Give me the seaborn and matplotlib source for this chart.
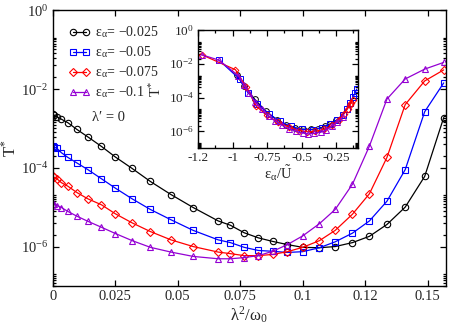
import numpy as np
import pandas as pd
import matplotlib
matplotlib.use("Agg")
import matplotlib.pyplot as plt
import seaborn as sns
from matplotlib.ticker import FixedLocator, FixedFormatter, MultipleLocator, NullFormatter

# ---------------- data ----------------
lam2 = [0.0, 0.0004, 0.0017, 0.0035, 0.0061, 0.0097, 0.0141, 0.0195, 0.0251, 0.0318,
        0.0391, 0.0473, 0.0562, 0.0662, 0.0711, 0.0766, 0.0823, 0.0880, 0.0939, 0.1000,
        0.1067, 0.1130, 0.1199, 0.1267, 0.1337, 0.1410, 0.1488, 0.1564]

logT_025 = [-2.64, -2.66, -2.71, -2.77, -2.86, -3.03, -3.22, -3.46, -3.73, -4.02,
            -4.35, -4.68, -5.01, -5.35, -5.46, -5.65, -5.78, -5.87, -5.95, -6.02,
            -6.03, -6.00, -5.90, -5.74, -5.44, -5.00, -4.22, -2.73]
logT_050 = [-3.46, -3.47, -3.51, -3.62, -3.74, -3.88, -4.05, -4.28, -4.52, -4.79,
            -5.06, -5.32, -5.59, -5.83, -5.90, -6.02, -6.10, -6.12, -6.15, -6.13,
            -6.03, -5.88, -5.66, -5.35, -4.85, -4.05, -2.58, -1.85]
logT_075 = [-4.22, -4.24, -4.28, -4.38, -4.47, -4.63, -4.79, -4.94, -5.17, -5.40,
            -5.62, -5.83, -6.00, -6.14, -6.18, -6.23, -6.23, -6.20, -6.13, -6.02,
            -5.85, -5.59, -5.18, -4.66, -3.74, -2.40, -1.80, -1.52]
logT_100 = [-4.91, -4.93, -4.96, -5.01, -5.11, -5.23, -5.36, -5.51, -5.67, -5.85,
            -6.02, -6.14, -6.25, -6.31, -6.31, -6.28, -6.23, -6.12, -5.95, -5.73,
            -5.42, -5.06, -4.42, -3.45, -2.26, -1.75, -1.50, -1.33]

# inset: T* versus eps_alpha / U~
in_x_025 = [-0.97, -0.92, -0.84, -0.76, -0.68, -0.61, -0.55, -0.49, -0.43, -0.38, -0.33, -0.29, -0.25]
in_L_025 = [-2.66, -3.30, -4.10, -4.80, -5.30, -5.62, -5.80, -5.87, -5.88, -5.84, -5.70, -5.55, -5.35]
in_x_050 = [-1.10, -0.95, -0.89, -0.82, -0.74, -0.66, -0.58, -0.50, -0.42, -0.35, -0.29, -0.24,
            -0.20, -0.17, -0.145, -0.125, -0.11, -0.10]
in_L_050 = [-1.78, -2.90, -3.70, -4.35, -4.95, -5.40, -5.70, -5.88, -5.90, -5.78, -5.58, -5.30,
            -5.00, -4.65, -4.30, -3.95, -3.70, -3.50]
in_x_075 = [-1.22, -0.98, -0.90, -0.83, -0.75, -0.67, -0.59, -0.52, -0.46, -0.40, -0.34, -0.28,
            -0.23, -0.19, -0.165, -0.15, -0.14, -0.13]
in_L_075 = [-1.48, -2.35, -3.40, -4.50, -5.05, -5.45, -5.75, -5.95, -6.02, -6.00, -5.88, -5.65,
            -5.30, -4.95, -4.65, -4.45, -4.30, -4.15]
in_x_100 = [-1.22, -1.10, -0.96, -0.92, -0.88, -0.84, -0.79, -0.74, -0.69, -0.64, -0.59, -0.54,
            -0.49, -0.45, -0.41, -0.36, -0.32, -0.28, -0.24, -0.20]
in_L_100 = [-1.48, -1.78, -2.70, -3.25, -3.75, -4.25, -4.70, -5.10, -5.40, -5.65, -5.85, -6.00,
            -6.10, -6.15, -6.12, -6.05, -5.90, -5.70, -5.45, -5.15]

labels = ['ε$_\\mathregular{α}$= −0.025', 'ε$_\\mathregular{α}$= −0.05',
          'ε$_\\mathregular{α}$= −0.075', 'ε$_\\mathregular{α}$= −0.1']
main_y = [logT_025, logT_050, logT_075, logT_100]
inset_x = [in_x_025, in_x_050, in_x_075, in_x_100]
inset_y = [in_L_025, in_L_050, in_L_075, in_L_100]

main_xticks = [0, 0.025, 0.05, 0.075, 0.1, 0.125, 0.15]
main_xticklabels = ['0', '0.025', '0.05', '0.075', '0.1', '0.12', '0.15']
inset_xticks = [-1.25, -1.0, -0.75, -0.5, -0.25]
inset_xticklabels = ['-1.2', '-1', '-0.75', '-0.5', '-0.25']
yticks = [1e-6, 1e-4, 1e-2, 1e0]
yticklabels = ['10$^\\mathregular{-6}$', '10$^\\mathregular{-4}$',
               '10$^\\mathregular{-2}$', '10$^\\mathregular{0}$']

# ---------------- style ----------------
sns.set_theme(style="ticks")
plt.rcParams['font.family'] = ['Liberation Serif', 'DejaVu Serif']
plt.rcParams['mathtext.fontset'] = 'stix'
plt.rcParams['axes.linewidth'] = 1.0

colors = ['#000000', '#0000ff', '#ff0000', '#9400d3']
markers = ['o', 's', 'D', '^']
msizes = [4.6, 4.2, 3.8, 4.6]

fig = plt.figure(figsize=(4.5, 3.32), dpi=100)
ax = fig.add_axes([0.117, 0.1386, 0.874, 0.8314])
axin = fig.add_axes([0.44, 0.5533, 0.355, 0.3563])

minor_log = [10.0**d * k for d in (-8, -6, -4, -2, 0) for k in range(2, 21, 2)]


def style_log_axis(a, fs):
    a.set_yscale('log')
    a.set_ylim(1e-7, 1.0)
    a.yaxis.set_major_locator(FixedLocator(yticks))
    a.yaxis.set_major_formatter(FixedFormatter(yticklabels))
    a.yaxis.set_minor_locator(FixedLocator(minor_log))
    a.yaxis.set_minor_formatter(NullFormatter())
    a.tick_params(which='both', direction='in', top=True, right=True,
                  labelsize=fs, pad=3, width=0.9, color='black')
    a.tick_params(which='major', length=4.5)
    a.tick_params(which='minor', length=2.3)
    for s in a.spines.values():
        s.set_color('black')
        s.set_linewidth(1.0)


for ly, c, m, ms, lab in zip(main_y, colors, markers, msizes, labels):
    df = pd.DataFrame({'x': lam2, 'T': 10.0 ** np.array(ly)})
    sns.lineplot(data=df, x='x', y='T', ax=ax, color=c, marker=m, markersize=ms,
                 markerfacecolor='none', markeredgecolor=c, markeredgewidth=0.8,
                 linewidth=0.9, estimator=None, sort=False, label=lab, legend=False)

for ix, iy, c, m, ms in zip(inset_x, inset_y, colors, markers, msizes):
    df = pd.DataFrame({'x': ix, 'T': 10.0 ** np.array(iy)})
    sns.lineplot(data=df, x='x', y='T', ax=axin, color=c, marker=m, markersize=ms * 0.9,
                 markerfacecolor='none', markeredgecolor=c, markeredgewidth=0.7,
                 linewidth=0.9, estimator=None, sort=False, legend=False)

style_log_axis(ax, 10.5)
ax.set_xlim(0, 0.1573)
ax.xaxis.set_major_locator(FixedLocator(main_xticks))
ax.xaxis.set_major_formatter(FixedFormatter(main_xticklabels))
ax.xaxis.set_minor_locator(FixedLocator([]))
ax.set_xlabel('λ$^\\mathregular{2}$/ω$_\\mathregular{0}$', fontsize=12, labelpad=1)
ax.set_ylabel('T$^\\mathregular{*}$', fontsize=12)
ax.yaxis.set_label_coords(-0.085, 0.5)

style_log_axis(axin, 9.5)
axin.set_xlim(-1.252, -0.092)
axin.xaxis.set_major_locator(FixedLocator(inset_xticks))
axin.xaxis.set_major_formatter(FixedFormatter(inset_xticklabels))
axin.xaxis.set_minor_locator(MultipleLocator(0.125))
axin.set_xlabel('ε$_\\mathregular{α}$/$\\tilde{\\mathregular{U}}$', fontsize=10.5, labelpad=-1)
axin.set_ylabel('T$^\\mathregular{*}$', fontsize=10.5)
axin.yaxis.set_label_coords(-0.215, 0.5)

h, l = ax.get_legend_handles_labels()
leg = ax.legend(h, l, loc='upper left', bbox_to_anchor=(0.04, 0.947), frameon=False,
                fontsize=10, numpoints=2, handlelength=1.6, handletextpad=0.35,
                labelspacing=0.3, borderaxespad=0.0, borderpad=0.0)

ax.text(0.141, 0.609, "λ′ = 0", transform=ax.transAxes, fontsize=10.5,
        ha='center', va='center', family=['Liberation Serif', 'DejaVu Serif'])

fig.savefig('out.png', dpi=100)
